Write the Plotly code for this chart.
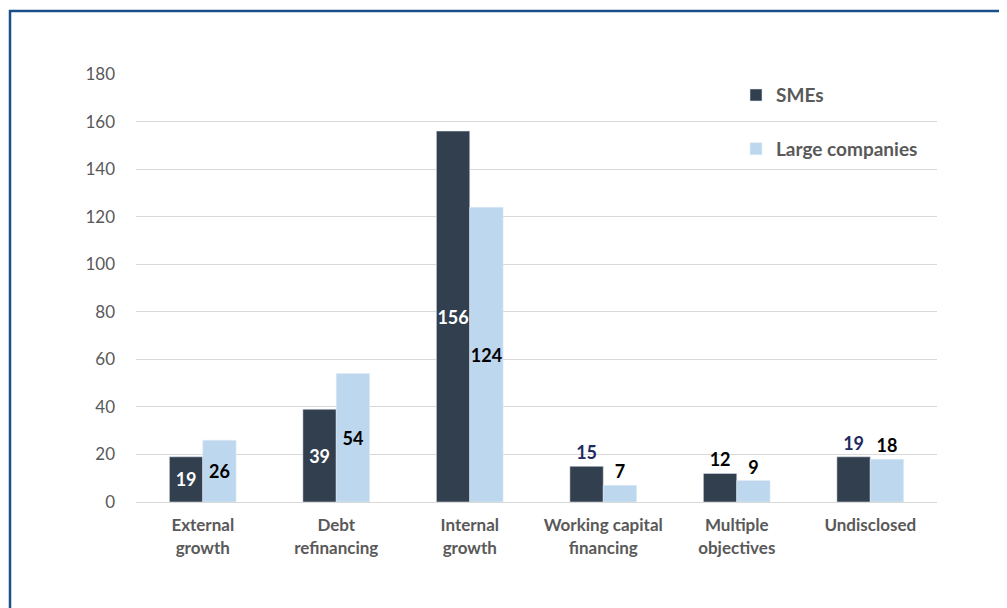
import plotly.graph_objects as go

categories = ["External<br>growth", "Debt<br>refinancing", "Internal<br>growth",
              "Working capital<br>financing", "Multiple<br>objectives", "Undisclosed"]
smes = [19, 39, 156, 15, 12, 19]
large = [26, 54, 124, 7, 9, 18]
y_ticks = [0, 20, 40, 60, 80, 100, 120, 140, 160, 180]

sme_color = "#323f4f"
large_color = "#bdd7ee"
font_family = "Lato, Carlito, Calibri, 'Open Sans', sans-serif"

positions = ["inside", "inside", "inside", "outside", "outside", "outside"]
sme_text_colors = ["white", "white", "white", "#1f2a60", "black", "#1f2a60"]
large_text_colors = ["black"] * 6

L, R, T, B = 128, 78, 66, 114
W, H = 1007, 608
PW = W - L - R
PH = H - T - B

fig = go.Figure()
fig.add_trace(go.Bar(
    x=categories, y=smes, name="SMEs", marker_color=sme_color,
    text=[str(v) for v in smes], textposition=positions, textangle=0,
    insidetextanchor="middle", constraintext="none",
    textfont=dict(color=sme_text_colors, size=18, family=font_family, weight="bold"),
    legendgroup="a", cliponaxis=False,
))
fig.add_trace(go.Bar(
    x=categories, y=large, name="Large companies", marker_color=large_color,
    text=[str(v) for v in large], textposition=positions, textangle=0,
    insidetextanchor="middle", constraintext="none",
    textfont=dict(color=large_text_colors, size=18, family=font_family, weight="bold"),
    legendgroup="b", cliponaxis=False,
))

fig.update_layout(
    width=W, height=H,
    margin=dict(l=L, r=R, t=T, b=B),
    paper_bgcolor="white", plot_bgcolor="white",
    barmode="group", bargap=0.5, bargroupgap=0,
    font=dict(family=font_family, color="#595959"),
    showlegend=True,
    legend=dict(
        x=(728 - L) / PW, y=0.995, xanchor="left", yanchor="top",
        orientation="v", tracegroupgap=26,
        font=dict(size=19, color="#595959", family=font_family, weight="bold"),
        bgcolor="rgba(0,0,0,0)", itemwidth=30,
    ),
    xaxis=dict(
        showgrid=False, showline=True, linecolor="#d9d9d9", linewidth=1,
        tickfont=dict(size=17, color="#595959", family=font_family, weight="bold"),
        ticks="", ticklabelstandoff=8,
    ),
    yaxis=dict(
        range=[0, 180], tickvals=y_ticks, showgrid=True, gridcolor="#d9d9d9",
        gridwidth=1, zeroline=False,
        tickfont=dict(size=17, color="#595959", family=font_family),
        ticks="", ticklabelstandoff=20,
    ),
    shapes=[dict(
        type="rect", xref="paper", yref="paper",
        x0=(2 - L) / PW, x1=(1012 - L) / PW,
        y0=(PH - 615 + T) / PH, y1=(PH - 3 + T) / PH,
        line=dict(color="#1a4f8a", width=2.5), fillcolor="rgba(0,0,0,0)",
        layer="above",
    )],
)

fig.write_html("out.html")
